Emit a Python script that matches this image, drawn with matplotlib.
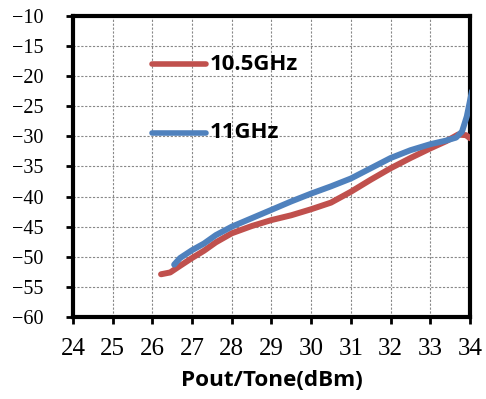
import matplotlib
matplotlib.use("Agg")
import matplotlib.pyplot as plt

red_x = [26.22, 26.45, 26.7, 27.0, 27.3, 27.6, 28.0, 28.5, 29.0, 29.5, 30.0, 30.5, 31.0, 31.5, 32.0, 32.5, 33.0, 33.4, 33.7, 33.9, 34.0]
red_y = [-52.9, -52.6, -51.5, -50.2, -49.0, -47.6, -46.1, -44.9, -43.9, -43.1, -42.1, -41.0, -39.2, -37.2, -35.3, -33.6, -32.0, -30.8, -29.7, -29.8, -30.3]
blue_x = [26.55, 26.7, 27.0, 27.3, 27.6, 28.0, 28.5, 29.0, 29.5, 30.0, 30.5, 31.0, 31.5, 32.0, 32.5, 33.0, 33.4, 33.65, 33.8, 33.92, 34.05]
blue_y = [-51.3, -50.2, -48.9, -47.8, -46.4, -45.0, -43.6, -42.2, -40.8, -39.5, -38.3, -37.0, -35.3, -33.6, -32.3, -31.3, -30.7, -30.2, -29.2, -26.7, -22.5]
labels = ["10.5GHz", "11GHz"]
xticks = list(range(24, 35))
yticks = list(range(-60, -5, 5))

RED = "#C0504D"
BLUE = "#4F81BD"
plt.rcParams["font.family"] = ["Liberation Serif", "DejaVu Serif"]
plt.rcParams["axes.unicode_minus"] = True

fig = plt.figure(figsize=(4.86, 3.99), dpi=100)
ax = fig.add_axes([0.150, 0.2055, 0.817, 0.7545])

ax.plot(red_x, red_y, color=RED, lw=4.3, solid_capstyle="round", solid_joinstyle="round", zorder=3)
ax.plot(blue_x, blue_y, color=BLUE, lw=4.3, solid_capstyle="round", solid_joinstyle="round", zorder=4)

ax.set_xlim(24, 34)
ax.set_ylim(-60, -10)
ax.set_xticks(xticks)
ax.set_yticks(yticks)
ax.set_xticklabels([str(t) for t in xticks])
ax.set_yticklabels([str(t).replace("-", "\u2212") for t in yticks])
ax.tick_params(axis="both", direction="out", length=5, width=2, color="black")
ax.tick_params(axis="y", pad=16, labelsize=14.5)
ax.tick_params(axis="x", pad=10, labelsize=18)
for s in ax.spines.values():
    s.set_linewidth(3)
    s.set_color("black")
ax.grid(True, color="#888888", lw=0.8, linestyle=(0, (2, 1.5)))
ax.set_axisbelow(True)

# legend drawn manually inside axes
leg_y = [-18, -29.4]
for yy, col, lab in zip(leg_y, [RED, BLUE], labels):
    ax.plot([26.0, 27.35], [yy, yy], color=col, lw=4, solid_capstyle="round", zorder=5)
    ax.text(27.45, yy, lab, fontfamily="Open Sans", fontweight="bold", fontsize=16, va="center", ha="left", zorder=6)

ax.set_xlabel("Pout/Tone(dBm)", fontfamily="Open Sans", fontweight="bold", fontsize=16.2, labelpad=7)

fig.savefig("out.png", dpi=100)
